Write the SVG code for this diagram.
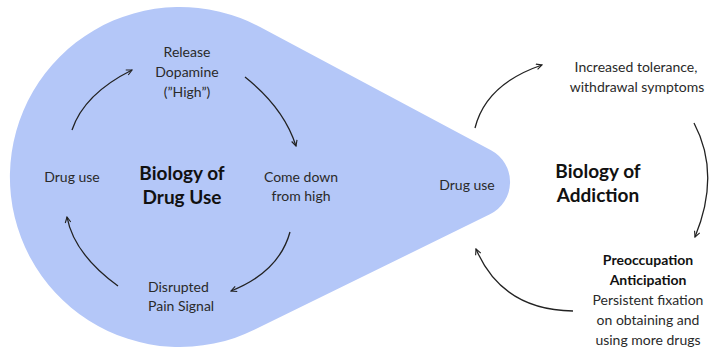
<svg xmlns="http://www.w3.org/2000/svg" width="710" height="351" viewBox="0 0 710 351">
<defs>
<style>
.t{font-family:Lato,"Open Sans","Liberation Sans",sans-serif;font-size:14px;fill:#2a2a2a}
.b{font-family:Lato,"Open Sans","Liberation Sans",sans-serif;font-size:19px;font-weight:bold;fill:#111}
.bs{font-family:Lato,"Open Sans","Liberation Sans",sans-serif;font-size:14px;font-weight:bold;fill:#111}
.c{text-anchor:middle}
.a{fill:none;stroke:#222;stroke-width:1.3;marker-end:url(#h)}
</style>
<marker id="h" viewBox="0 0 10 10" refX="9" refY="5" markerWidth="7" markerHeight="7" markerUnits="userSpaceOnUse" orient="auto">
<path d="M1 1 L9 5 L1 9" fill="none" stroke="#222" stroke-width="1.6"/>
</marker>
</defs>
<rect width="710" height="351" fill="#fff"/>
<g id="blob">
<path d="M260.1 27.1 L491 150.2 A36 36 0 0 1 489.9 214.3 L254.8 329.6 A170 170 0 1 1 260.1 27.1 Z" fill="#b4c7f8"/>
</g>
<g id="connectors">
<path class="a" d="M72 130 Q84 94 132 70"/>
<path class="a" d="M245 77 Q284 108 296 146"/>
<path class="a" d="M290 232 Q279 272 231 291"/>
<path class="a" d="M118 286 Q74 254 67 217"/>
<path class="a" d="M475 128 Q486 84 542 65"/>
<path class="a" d="M694 123 Q721 174 695 237"/>
<path class="a" d="M573 311 Q502 310 476 249"/>
</g>
<g id="release"><text class="t c" x="187" y="57">Release</text><text class="t c" x="187" y="77">Dopamine</text><text class="t c" x="187" y="97">(”High”)</text></g>
<g id="comedown"><text class="t c" x="301" y="182">Come down</text><text class="t c" x="301" y="201">from high</text></g>
<g id="disrupted"><text class="t" x="148" y="292">Disrupted</text><text class="t" x="148" y="311">Pain Signal</text></g>
<g id="druguse-left"><text class="t c" x="72" y="182">Drug use</text></g>
<g id="title-left"><text class="b c" x="182" y="180">Biology of</text><text class="b c" x="182" y="204">Drug Use</text></g>
<g id="druguse-right"><text class="t c" x="467" y="190">Drug use</text></g>
<g id="title-right"><text class="b c" x="598" y="178">Biology of</text><text class="b c" x="598" y="202">Addiction</text></g>
<g id="tolerance"><text class="t c" x="636" y="72">Increased tolerance,</text><text class="t c" x="637" y="92">withdrawal symptoms</text></g>
<g id="preoccupation"><text class="bs c" x="648" y="265">Preoccupation</text><text class="bs c" x="648" y="285">Anticipation</text><text class="t c" x="648" y="305">Persistent fixation</text><text class="t c" x="648" y="325">on obtaining and</text><text class="t c" x="648" y="345">using more drugs</text></g>
</svg>
